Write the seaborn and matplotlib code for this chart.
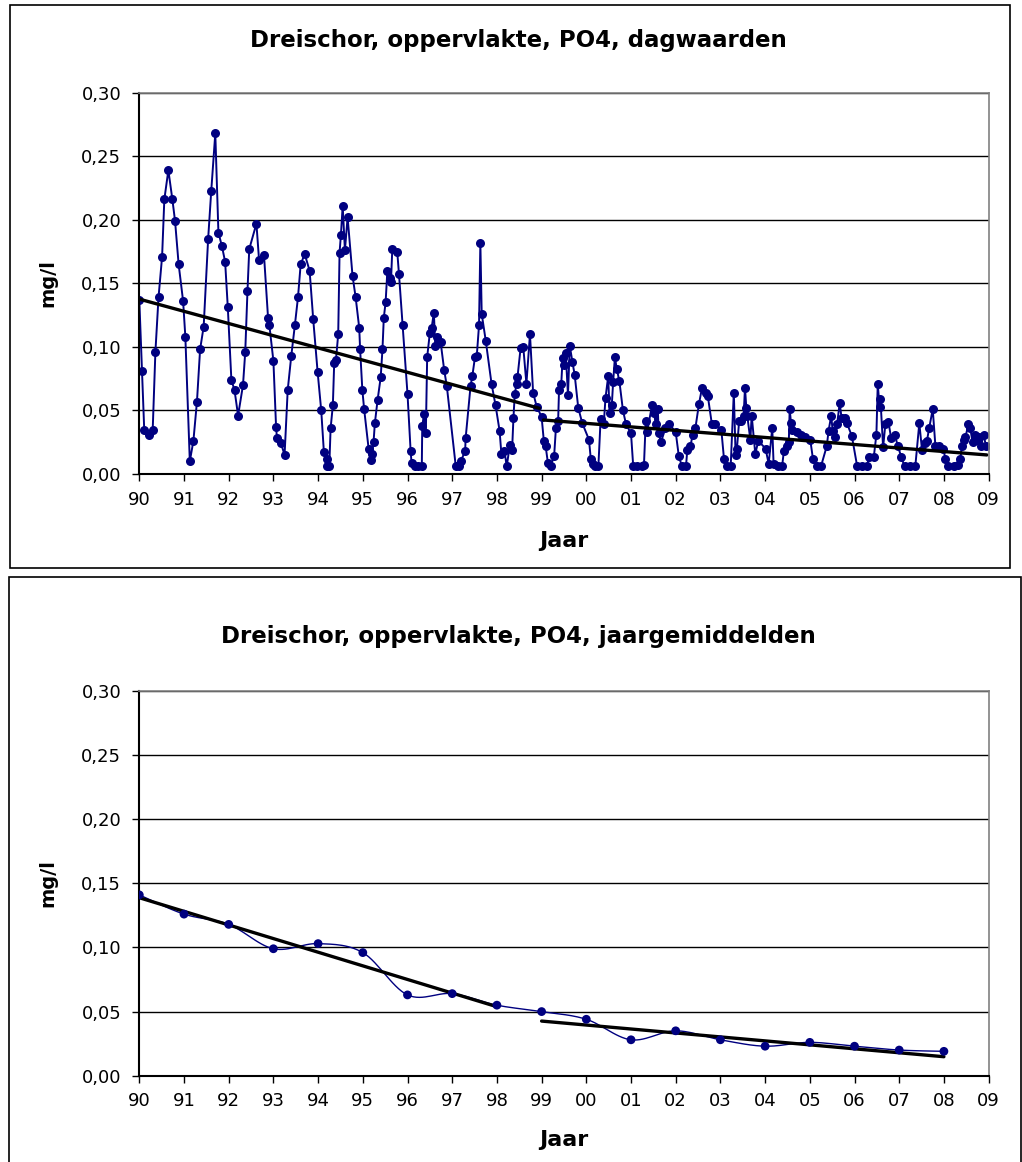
import numpy as np
import pandas as pd
import matplotlib
matplotlib.use('Agg')
import matplotlib.pyplot as plt
from matplotlib.patches import Rectangle
import seaborn as sns

sns.set_style('white')
plt.rcParams['font.family'] = ['DejaVu Sans']
plt.rcParams['text.color'] = 'black'

# dagwaarden: tijd in jaren sinds 1990, PO4 in mg/l
day_t = [
    0.00, 0.06, 0.11, 0.21, 0.30, 0.36, 0.43, 0.51, 0.56, 0.65, 0.74, 0.80, 0.88, 0.98,
    1.03, 1.13, 1.21, 1.29, 1.36, 1.44, 1.54, 1.61, 1.70, 1.77, 1.85, 1.92, 1.98,
    2.06, 2.13, 2.21, 2.32, 2.37, 2.42, 2.46, 2.62, 2.68, 2.79, 2.88, 2.91,
    3.00, 3.06, 3.08, 3.17, 3.25, 3.32, 3.40, 3.48, 3.55, 3.61, 3.70, 3.81, 3.89, 3.99,
    4.07, 4.13, 4.20, 4.21, 4.25, 4.28, 4.33, 4.36, 4.40, 4.45, 4.48, 4.51, 4.55, 4.60,
    4.66, 4.77, 4.84, 4.92, 4.94, 4.99,
    5.03, 5.13, 5.18, 5.21, 5.24, 5.27, 5.33, 5.40, 5.44, 5.47, 5.51, 5.55, 5.60, 5.63,
    5.66, 5.77, 5.81, 5.89,
    6.00, 6.07, 6.09, 6.17, 6.24, 6.32, 6.33, 6.37, 6.41, 6.44, 6.50, 6.54, 6.59, 6.62,
    6.67, 6.74, 6.82, 6.88,
    7.08, 7.15, 7.19, 7.29, 7.30, 7.41, 7.45, 7.51, 7.55, 7.60, 7.63, 7.66, 7.75, 7.88, 7.97,
    8.06, 8.10, 8.17, 8.22, 8.29, 8.34, 8.37, 8.40, 8.44, 8.46, 8.53, 8.59, 8.66, 8.74,
    8.81, 8.89,
    9.00, 9.05, 9.09, 9.14, 9.20, 9.28, 9.32, 9.37, 9.39, 9.44, 9.47, 9.50, 9.54, 9.59,
    9.63, 9.69, 9.74, 9.82, 9.91,
    10.06, 10.10, 10.15, 10.19, 10.27, 10.32, 10.39, 10.43, 10.49, 10.52, 10.57, 10.60,
    10.64, 10.68, 10.74, 10.82, 10.89,
    11.00, 11.05, 11.14, 11.24, 11.29, 11.33, 11.36, 11.47, 11.52, 11.55, 11.60, 11.62,
    11.67, 11.77, 11.86,
    12.00, 12.07, 12.14, 12.23, 12.26, 12.33, 12.38, 12.44, 12.52, 12.59, 12.67, 12.72,
    12.81, 12.89,
    13.02, 13.08, 13.14, 13.23, 13.30, 13.34, 13.37, 13.42, 13.46, 13.52, 13.55, 13.58,
    13.60, 13.67, 13.70, 13.78, 13.85,
    14.01, 14.08, 14.16, 14.19, 14.28, 14.38, 14.42, 14.48, 14.53, 14.55, 14.58, 14.60,
    14.71, 14.80, 14.90,
    15.01, 15.07, 15.16, 15.25, 15.38, 15.42, 15.48, 15.51, 15.57, 15.61, 15.67, 15.71,
    15.78, 15.83, 15.94,
    16.06, 16.17, 16.28, 16.32, 16.43, 16.49, 16.52, 16.56, 16.58, 16.64, 16.69, 16.76,
    16.82, 16.90, 16.97,
    17.05, 17.12, 17.25, 17.36, 17.45, 17.51, 17.57, 17.62, 17.67, 17.75, 17.81, 17.88, 17.99,
    18.03, 18.10, 18.22, 18.31, 18.37, 18.40, 18.44, 18.48, 18.55, 18.59, 18.64, 18.69,
    18.74, 18.78, 18.83, 18.89, 18.94,
]
day_po4 = [
    0.137, 0.081, 0.035, 0.031, 0.035, 0.096, 0.139, 0.171, 0.216, 0.239, 0.216, 0.199, 0.165, 0.136,
    0.108, 0.010, 0.026, 0.057, 0.098, 0.116, 0.185, 0.223, 0.268, 0.190, 0.179, 0.167, 0.131,
    0.074, 0.066, 0.046, 0.070, 0.096, 0.144, 0.177, 0.197, 0.168, 0.172, 0.123, 0.117,
    0.089, 0.037, 0.028, 0.024, 0.015, 0.066, 0.093, 0.117, 0.139, 0.165, 0.173, 0.160, 0.122, 0.080,
    0.050, 0.017, 0.006, 0.012, 0.006, 0.036, 0.054, 0.087, 0.090, 0.110, 0.174, 0.188, 0.211, 0.176,
    0.202, 0.156, 0.139, 0.115, 0.098, 0.066,
    0.051, 0.020, 0.011, 0.016, 0.025, 0.040, 0.058, 0.076, 0.098, 0.123, 0.135, 0.160, 0.154, 0.151,
    0.177, 0.175, 0.157, 0.117,
    0.063, 0.018, 0.009, 0.006, 0.006, 0.006, 0.038, 0.047, 0.032, 0.092, 0.111, 0.115, 0.127, 0.101,
    0.108, 0.104, 0.082, 0.069,
    0.006, 0.006, 0.010, 0.018, 0.028, 0.069, 0.077, 0.092, 0.093, 0.117, 0.182, 0.126, 0.105, 0.071, 0.054,
    0.034, 0.016, 0.018, 0.006, 0.023, 0.019, 0.044, 0.063, 0.071, 0.076, 0.099, 0.100, 0.071, 0.110,
    0.064, 0.053,
    0.045, 0.026, 0.022, 0.009, 0.006, 0.014, 0.036, 0.042, 0.066, 0.071, 0.091, 0.086, 0.095, 0.062,
    0.101, 0.088, 0.078, 0.052, 0.040,
    0.027, 0.012, 0.008, 0.006, 0.006, 0.043, 0.039, 0.060, 0.077, 0.048, 0.054, 0.072,
    0.092, 0.083, 0.073, 0.050, 0.039,
    0.032, 0.006, 0.006, 0.006, 0.007, 0.042, 0.033, 0.054, 0.048, 0.039, 0.051, 0.032,
    0.025, 0.036, 0.039,
    0.033, 0.014, 0.006, 0.006, 0.019, 0.022, 0.031, 0.036, 0.055, 0.068, 0.064, 0.061,
    0.039, 0.039,
    0.035, 0.012, 0.006, 0.006, 0.064, 0.015, 0.020, 0.042, 0.042, 0.046, 0.068, 0.052,
    0.046, 0.027, 0.046, 0.016, 0.026,
    0.020, 0.008, 0.036, 0.008, 0.006, 0.006, 0.018, 0.022, 0.025, 0.051, 0.040, 0.035,
    0.033, 0.031, 0.029,
    0.027, 0.012, 0.006, 0.006, 0.022, 0.034, 0.046, 0.034, 0.029, 0.039, 0.056, 0.044,
    0.044, 0.040, 0.030,
    0.006, 0.006, 0.006, 0.013, 0.013, 0.031, 0.071, 0.053, 0.059, 0.021, 0.039, 0.041,
    0.028, 0.031, 0.022,
    0.013, 0.006, 0.006, 0.006, 0.040, 0.019, 0.024, 0.026, 0.036, 0.051, 0.022, 0.022, 0.020,
    0.012, 0.006, 0.006, 0.007, 0.012, 0.022, 0.027, 0.029, 0.039, 0.036, 0.025, 0.031,
    0.027, 0.029, 0.022, 0.031, 0.022,
]

# jaargemiddelden
year_t = list(range(19))
year_po4 = [0.141, 0.126, 0.118, 0.099, 0.103, 0.096, 0.063, 0.064, 0.055, 0.050,
            0.044, 0.028, 0.035, 0.028, 0.023, 0.026, 0.023, 0.020, 0.019]

# trendlijnen (begin- en eindpunt per periode)
day_trend1_t = [0.0, 8.95]
day_trend1_v = [0.1376, 0.0517]
day_trend2_t = [9.04, 18.96]
day_trend2_v = [0.0425, 0.0150]
year_trend1_t = [0, 8]
year_trend1_v = [0.1388, 0.0538]
year_trend2_t = [9, 18]
year_trend2_v = [0.0426, 0.0148]

year_labels = ['90', '91', '92', '93', '94', '95', '96', '97', '98', '99',
               '00', '01', '02', '03', '04', '05', '06', '07', '08', '09']
y_ticks = [0.0, 0.05, 0.10, 0.15, 0.20, 0.25, 0.30]

navy = '#000080'
W, H = 1022, 1162


def smooth(x, y, n=16):
    # excel-achtige gladde lijn (bezier door de punten)
    pts = np.column_stack([x, y]).astype(float)
    xs, ys = [], []
    s = np.linspace(0, 1, n)[:, None]
    for i in range(len(pts) - 1):
        p0 = pts[i - 1] if i > 0 else pts[i]
        p1 = pts[i]
        p2 = pts[i + 1]
        p3 = pts[i + 2] if i + 2 < len(pts) else pts[i + 1]
        c1 = p1 + (p2 - p0) / 6
        c2 = p2 - (p3 - p1) / 6
        b = (1 - s) ** 3 * p1 + 3 * (1 - s) ** 2 * s * c1 + 3 * (1 - s) * s ** 2 * c2 + s ** 3 * p2
        xs.extend(b[:, 0])
        ys.extend(b[:, 1])
    return np.array(xs), np.array(ys)


def style(ax):
    ax.set_xlim(0, 19)
    ax.set_ylim(0, 0.30)
    ax.set_xticks(range(20))
    ax.set_xticklabels(year_labels)
    ax.set_yticks(y_ticks)
    ax.set_yticklabels([f'{v:.2f}'.replace('.', ',') for v in y_ticks])
    ax.grid(axis='y', color='black', lw=1)
    ax.grid(axis='x', visible=False)
    ax.set_axisbelow(True)
    for side in ['top', 'right']:
        ax.spines[side].set_color('#808080')
        ax.spines[side].set_linewidth(1.2)
    for side in ['left', 'bottom']:
        ax.spines[side].set_color('black')
        ax.spines[side].set_linewidth(1.5)
    ax.tick_params(axis='both', bottom=True, left=True, direction='out', length=5,
                   width=1, color='black', labelsize=13, labelcolor='black')
    ax.tick_params(axis='y', pad=8)
    ax.tick_params(axis='x', pad=7)
    ax.set_xlabel('')
    ax.set_ylabel('')


fig = plt.figure(figsize=(W / 100, H / 100), dpi=100)

# kaders om de twee grafieken
fig.add_artist(Rectangle((10 / W, 1 - 568 / H), 1000 / W, 563 / H, transform=fig.transFigure,
                         fill=False, ec='black', lw=1.2))
fig.add_artist(Rectangle((9 / W, -0.05), 1012 / W, 0.05 + 1 - 577 / H, transform=fig.transFigure,
                         fill=False, ec='black', lw=1.2))

left = 139.3 / W
width = (988.6 - 139.3) / W
ax1 = fig.add_axes([left, 1 - 474 / H, width, (474 - 92.7) / H])
ax2 = fig.add_axes([left, 1 - 1075.7 / H, width, (1075.7 - 691) / H])

# dagwaarden
day = pd.DataFrame({'t': day_t, 'po4': day_po4})
sns.lineplot(data=day, x='t', y='po4', estimator=None, sort=False, color=navy, lw=1.4,
             marker='o', markersize=6.5, markeredgewidth=0, ax=ax1)
sns.lineplot(x=day_trend1_t, y=day_trend1_v, color='black', lw=2.4, ax=ax1)
sns.lineplot(x=day_trend2_t, y=day_trend2_v, color='black', lw=2.4, ax=ax1)
style(ax1)

# jaargemiddelden
sx, sy = smooth(year_t, year_po4)
ax2.plot(sx, sy, color=navy, lw=1.0)
sns.scatterplot(x=year_t, y=year_po4, color=navy, s=40, edgecolor='none', ax=ax2, zorder=3)
sns.lineplot(x=year_trend1_t, y=year_trend1_v, color='black', lw=2.4, ax=ax2)
sns.lineplot(x=year_trend2_t, y=year_trend2_v, color='black', lw=2.4, ax=ax2)
style(ax2)

mid_x = (139.3 + 988.6) / 2 / W
fig.text(518 / W, 1 - 40 / H, 'Dreischor, oppervlakte, PO4, dagwaarden',
         ha='center', va='center', fontsize=16.5, fontweight='bold', color='black')
fig.text(518 / W, 1 - 636 / H, 'Dreischor, oppervlakte, PO4, jaargemiddelden',
         ha='center', va='center', fontsize=16.5, fontweight='bold', color='black')
fig.text(mid_x, 1 - 541 / H, 'Jaar', ha='center', va='center', fontsize=16,
         fontweight='bold', color='black')
fig.text(mid_x, 1 - 1140 / H, 'Jaar', ha='center', va='center', fontsize=16,
         fontweight='bold', color='black')
fig.text(48 / W, 1 - 283 / H, 'mg/l', ha='center', va='center', rotation=90,
         fontsize=14, fontweight='bold', color='black')
fig.text(48 / W, 1 - 883 / H, 'mg/l', ha='center', va='center', rotation=90,
         fontsize=14, fontweight='bold', color='black')

fig.savefig('out.png', dpi=100)
